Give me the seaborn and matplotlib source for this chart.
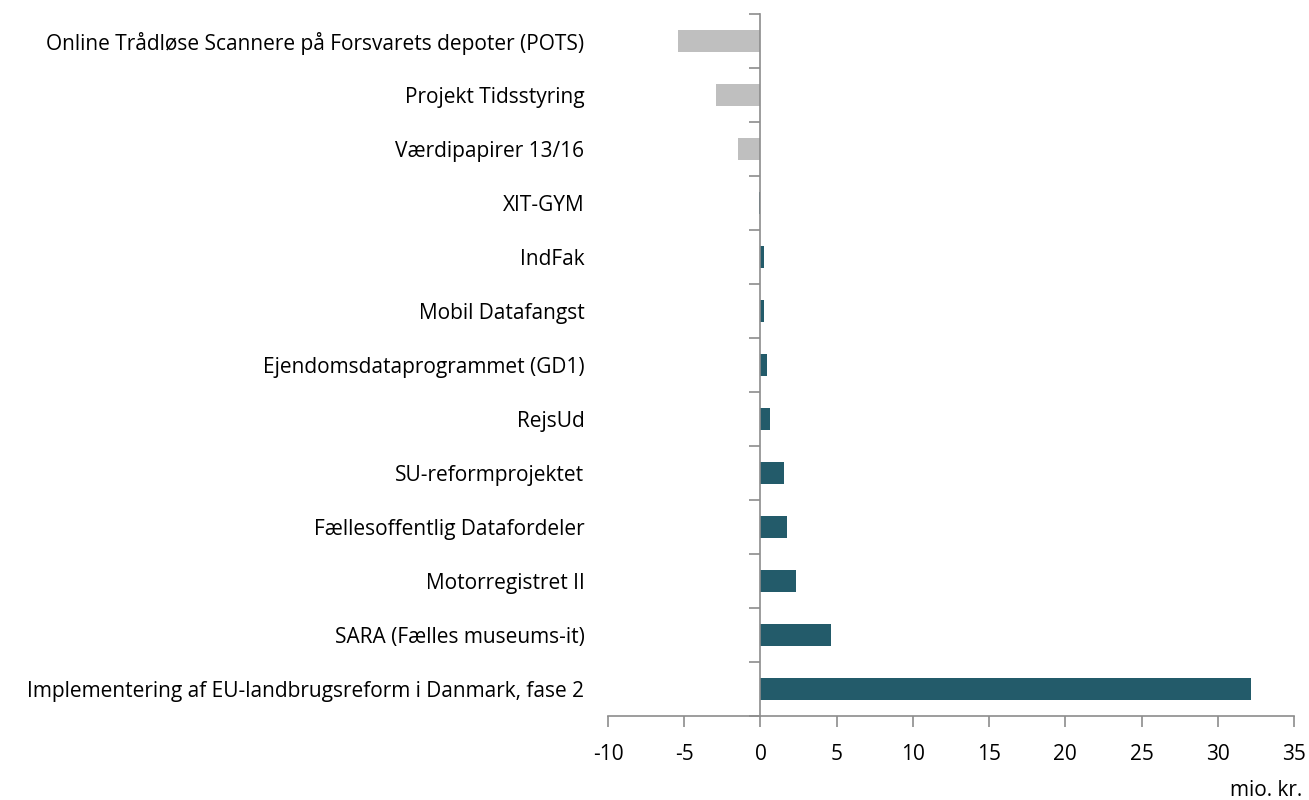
import matplotlib
matplotlib.use("Agg")
import matplotlib.pyplot as plt
import seaborn as sns
import pandas as pd

projects = [
    "Online Trådløse Scannere på Forsvarets depoter (POTS)",
    "Projekt Tidsstyring",
    "Værdipapirer 13/16",
    "XIT-GYM",
    "IndFak",
    "Mobil Datafangst",
    "Ejendomsdataprogrammet (GD1)",
    "RejsUd",
    "SU-reformprojektet",
    "Fællesoffentlig Datafordeler",
    "Motorregistret II",
    "SARA (Fælles museums-it)",
    "Implementering af EU-landbrugsreform i Danmark, fase 2",
]
values = [-5.4, -2.9, -1.45, -0.12, 0.26, 0.26, 0.46, 0.65, 1.55, 1.75, 2.3, 4.62, 32.2]
x_ticks = [-10, -5, 0, 5, 10, 15, 20, 25, 30, 35]
unit_label = "mio. kr."

POS = "#235B6A"
NEG = "#BFBFBF"
GRAY = "#8C8C8C"
FS = 15

df = pd.DataFrame({"project": projects, "value": values})
palette = {p: (NEG if v < 0 else POS) for p, v in zip(projects, values)}
palette[projects[3]] = POS

sns.set_theme(style="white")
plt.rcParams["font.family"] = ["Open Sans", "DejaVu Sans"]

fig = plt.figure(figsize=(13.09, 8.0), dpi=100)
ax = fig.add_axes([608 / 1309, 1 - 716 / 800, (1294 - 608) / 1309, (716 - 14) / 800])

sns.barplot(data=df, y="project", x="value", hue="project", palette=palette,
            order=projects, hue_order=projects, width=0.4, legend=False,
            saturation=1, linewidth=0, ax=ax)

ax.set_xlim(-10, 35)
ax.set_ylim(len(projects) - 0.5, -0.5)
ax.set_xticks(x_ticks)
ax.set_xticklabels([str(t) for t in x_ticks])
ax.set_xlabel("")
ax.set_ylabel("")

for s in ["top", "right", "left"]:
    ax.spines[s].set_visible(False)
ax.spines["bottom"].set_color(GRAY)
ax.spines["bottom"].set_linewidth(1.2)

ax.tick_params(axis="x", which="major", direction="out", length=8, width=1.2,
               color=GRAY, labelsize=FS, labelcolor="black", pad=12, bottom=True)
ax.tick_params(axis="y", which="major", length=0, labelsize=FS,
               labelcolor="black", pad=17)

# vertical zero axis with category-boundary ticks
sec = ax.secondary_yaxis(10 / 45)
sec.set_zorder(3)
sec.set_yticks([i - 0.5 for i in range(len(projects) + 1)])
sec.set_yticklabels([])
sec.spines["left"].set_color(GRAY)
sec.spines["left"].set_linewidth(1.2)
sec.tick_params(axis="y", direction="out", length=8, width=1.2, color=GRAY)

fig.text(1302 / 1309, 1 - 790 / 800, unit_label, ha="right", va="center",
         fontsize=FS, color="black")

fig.savefig("out.png", dpi=100)
